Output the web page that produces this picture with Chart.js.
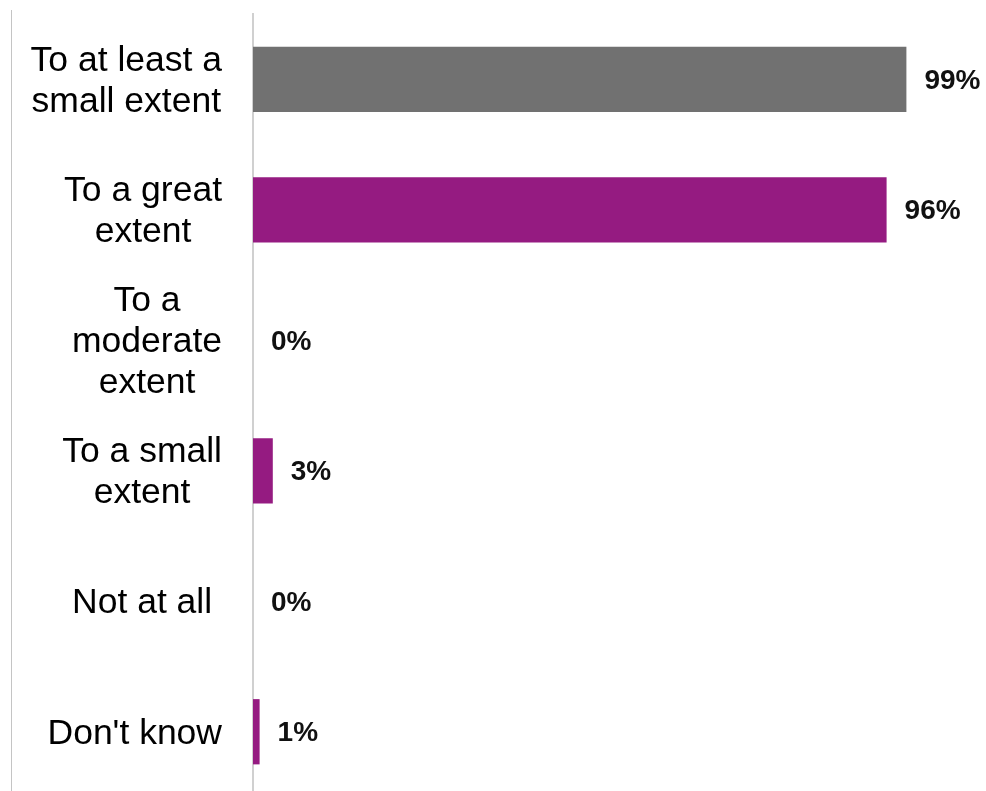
<!DOCTYPE html>
<html>
<head>
<meta charset="utf-8">
<script src="https://cdn.jsdelivr.net/npm/chart.js@4.4.1/dist/chart.umd.min.js"></script>
<style>
  html, body { margin: 0; padding: 0; background: #fff; overflow: hidden; }
  #wrap { position: relative; width: 986px; height: 800px; }
  #frame { position: absolute; left: 11px; top: 10px; bottom: 0; border-left: 1px solid #c4c4c4; }
</style>
</head>
<body>
<div id="wrap">
  <div id="frame"></div>
  <canvas id="barChart"></canvas>
</div>
<script>
// Category labels (one entry per line of text)
const categories = [
  ['To at least a', 'small extent'],
  ['To a great', 'extent'],
  ['To a', 'moderate', 'extent'],
  ['To a small', 'extent'],
  ['Not at all '],
  ["Don't know"]
];

// Percent of respondents
const percentValues = [99, 96, 0, 3, 0, 1];

// First bar is the summary bar, rest are the breakdown
const barColors = ['#717171', '#951b81', '#951b81', '#951b81', '#951b81', '#951b81'];

const FONT = "'Liberation Sans', Arial, sans-serif";

// Draws the category labels (centred lines, block right-aligned) and the value labels
const labelPlugin = {
  id: 'labelPlugin',
  afterDraw(chart) {
    const ctx = chart.ctx;
    const yScale = chart.scales.y;
    const meta = chart.getDatasetMeta(0);
    ctx.save();

    // category labels
    ctx.font = '35.5px ' + FONT;
    ctx.fillStyle = '#000';
    ctx.textAlign = 'center';
    ctx.textBaseline = 'middle';
    const lineHeight = 41;
    const rightEdge = 222;
    categories.forEach((lines, i) => {
      const y = yScale.getPixelForTick(i) + 2;
      const maxW = Math.max(...lines.map(l => ctx.measureText(l).width));
      const cx = rightEdge - maxW / 2;
      lines.forEach((line, j) => {
        ctx.fillText(line, cx, y + (j - (lines.length - 1) / 2) * lineHeight);
      });
    });

    // value labels
    ctx.font = 'bold 28px ' + FONT;
    ctx.fillStyle = '#111';
    ctx.textAlign = 'left';
    meta.data.forEach((bar, i) => {
      ctx.fillText(percentValues[i] + '%', bar.x + 18, bar.y + 2);
    });
    ctx.restore();
  }
};

const ctx = document.getElementById('barChart').getContext('2d');
const myChart = new Chart(ctx, {
  type: 'bar',
  data: {
    labels: categories,
    datasets: [{
      data: percentValues,
      backgroundColor: barColors,
      barPercentage: 0.5,
      categoryPercentage: 1.0
    }]
  },
  options: {
    indexAxis: 'y',
    responsive: true,
    maintainAspectRatio: false,
    animation: false,
    layout: {
      padding: { left: 13, right: 73, top: 14, bottom: 3 }
    },
    scales: {
      x: {
        display: false,
        min: 0,
        max: 100
      },
      y: {
        ticks: { display: false },
        grid: { display: false },
        border: { display: true, color: '#d0d0d0', width: 2 },
        afterFit: scale => { scale.width = 240; }
      }
    },
    plugins: {
      legend: { display: false },
      tooltip: { enabled: false }
    }
  },
  plugins: [labelPlugin]
});
</script>
</body>
</html>
